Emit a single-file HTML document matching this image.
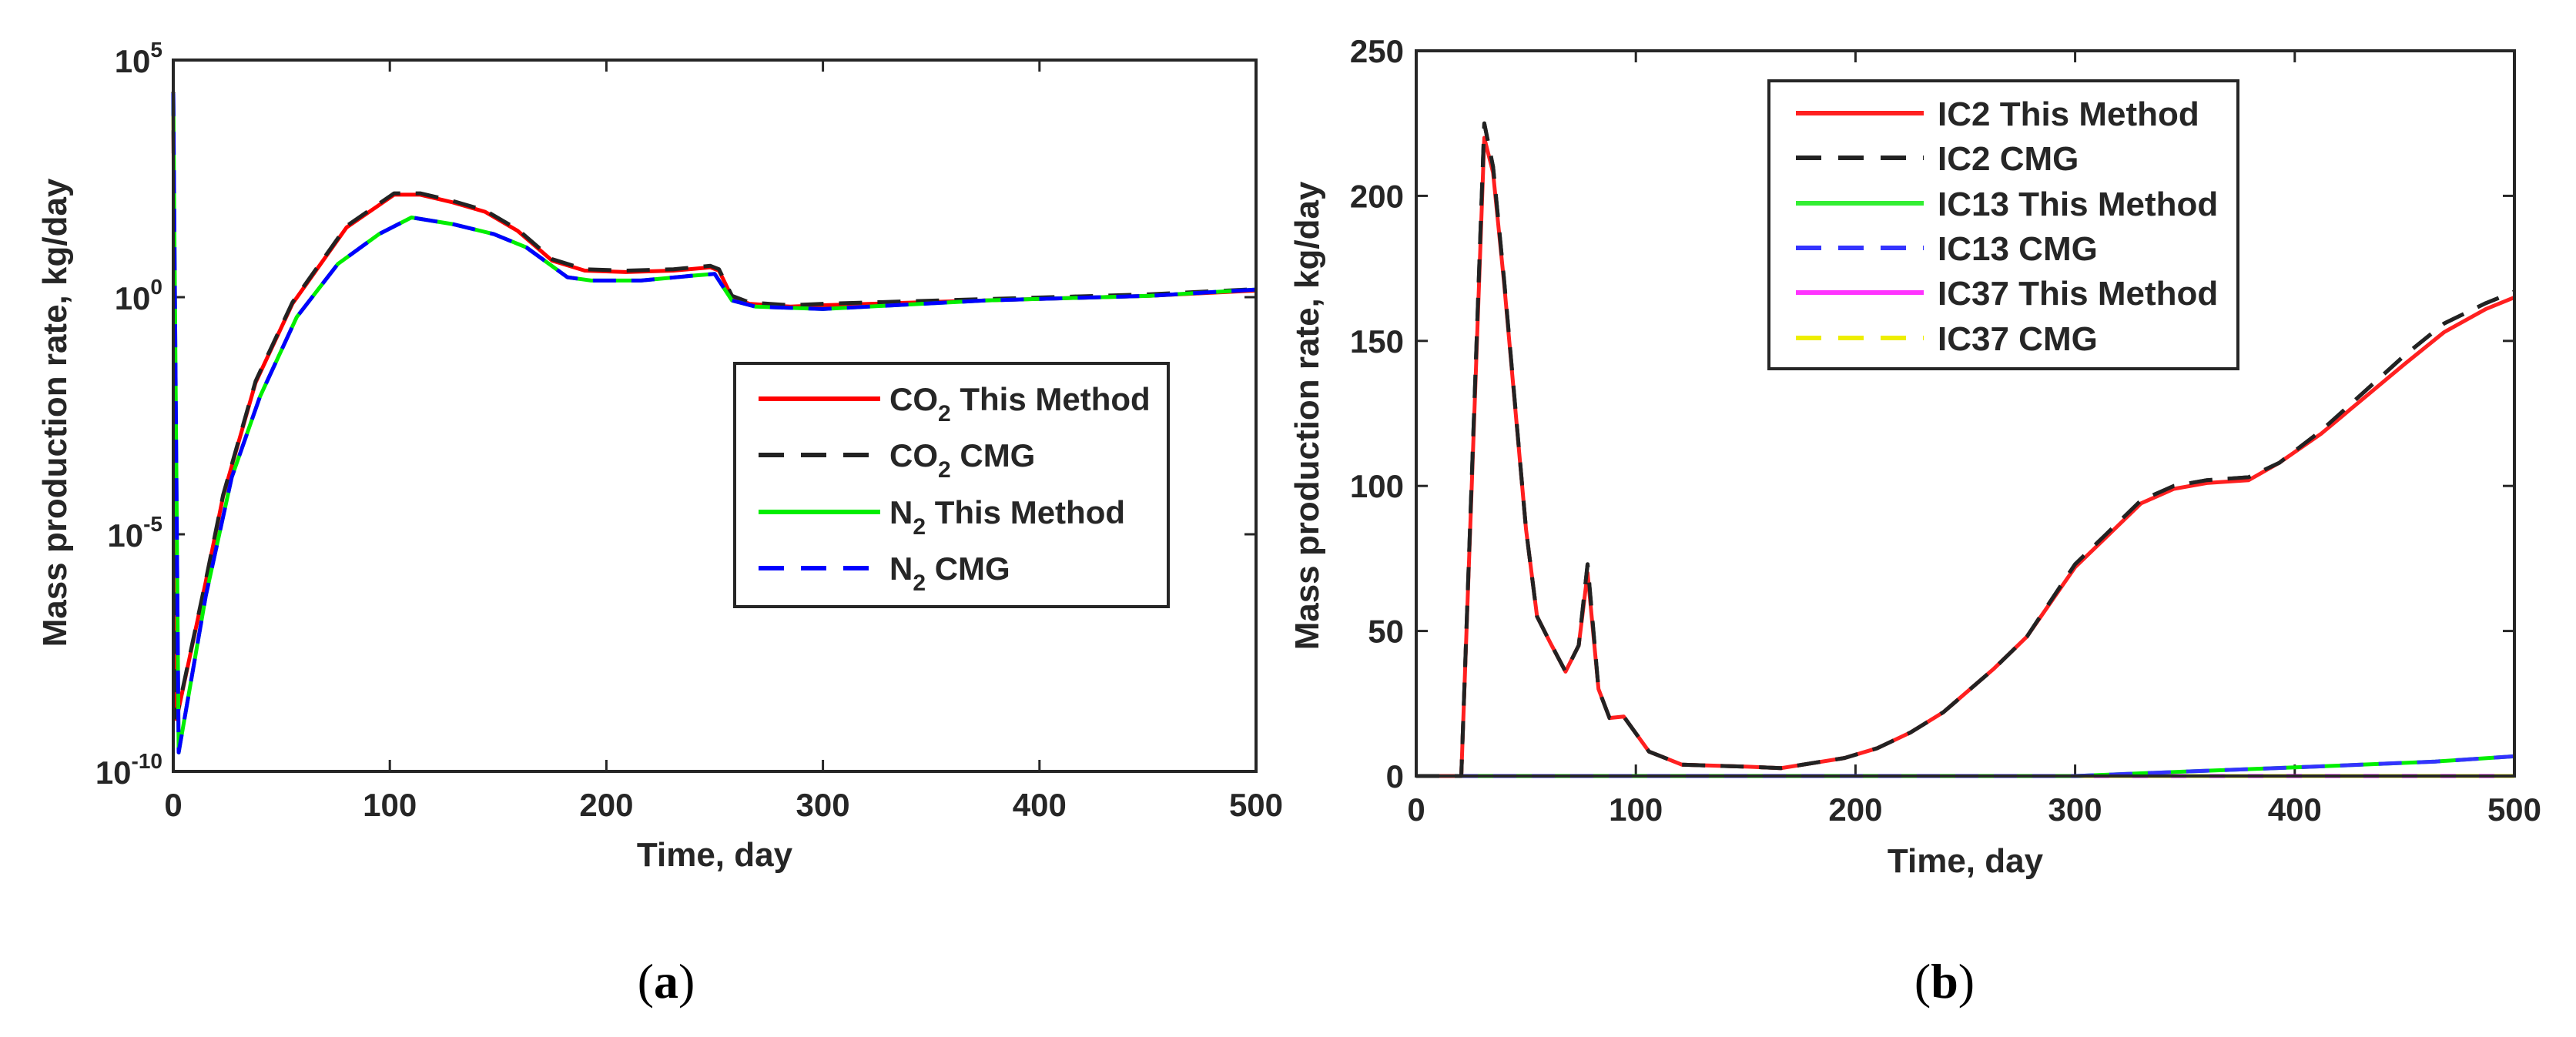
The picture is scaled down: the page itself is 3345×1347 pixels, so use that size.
<!DOCTYPE html>
<html><head><meta charset="utf-8"><style>
html,body{margin:0;padding:0;background:#fff;}
svg{display:block;}
text{font-family:"Liberation Sans",Arial,sans-serif;font-weight:bold;fill:#262626;}
.cap{font-family:"Liberation Serif","DejaVu Serif",serif;font-weight:normal;fill:#000;}
</style></head><body>
<svg id="fig" width="3345" height="1347" viewBox="0 0 3345 1347" xmlns="http://www.w3.org/2000/svg">
<g id="pa"></g>
<g id="pb"></g>
<text class="cap" x="865" y="1296" font-size="64" text-anchor="middle">(<tspan font-weight="bold">a</tspan>)</text>
<text class="cap" x="2525" y="1296" font-size="64" text-anchor="middle">(<tspan font-weight="bold">b</tspan>)</text>
</svg>
<script>
// ---- Panel (a) data: log10 of rate ----
const aXTicks = [0,100,200,300,400,500];
const aYTickExp = [5,0,-5,-10];
const aCO2x = [0,1.5,15,23,38,55,80,102,114,129,144,159,175,190,209,231,248,252,258,266,285,300,375,451,500];
const aCO2y = [4.3,-8.9,-6.0,-4.2,-1.8,-0.14,1.47,2.16,2.16,2.0,1.8,1.4,0.77,0.56,0.53,0.56,0.63,0.56,0.0,-0.14,-0.2,-0.17,-0.07,0.03,0.14];
const aN2x = [0,2.5,15,27,40,57,76,95,110,129,148,163,182,193,216,239,250,258,269,300,375,451,500];
const aN2y = [4.3,-9.6,-6.3,-3.8,-2.1,-0.42,0.7,1.33,1.68,1.54,1.33,1.05,0.42,0.35,0.35,0.45,0.49,-0.07,-0.2,-0.25,-0.07,0.03,0.16];
// ---- Panel (b) data ----
const bXTicks = [0,100,200,300,400,500];
const bYTicks = [0,50,100,150,200,250];
const bIC2x = [0,20.5,31,35,40,50,55,61,68,74,78,83,88,94.5,106,121,151,166,195,210,225,240,263,278,300,315,330,345,360,379,393,412,431,450,468,487,500];
const bIC2y = [0,0,220,208,170,85,55,46,36,45,70,30,20,20.5,8.4,3.9,3.2,2.7,6.2,9.6,15,22,37,48,72,83,94,99,101,102,108,118,130,142,153,161,165];
const bIC2cy = [0,0,225,210,171,85,55,46,36,45,73,30,20,20.5,8.4,3.9,3.2,2.7,6.2,9.6,15,22,37,48,73,84,95,100,102,103,108,119,132,145,156,163,167];
const bIC13x = [0,300,352,408,464,500];
const bIC13y = [0,0,1.6,3.2,5,6.8];
const bIC37x = [0,500];
const bIC37y = [0,0];

const NS='http://www.w3.org/2000/svg';
function mk(parent,tag,attrs){const e=document.createElementNS(NS,tag);for(const k in attrs)e.setAttribute(k,attrs[k]);parent.appendChild(e);return e;}
const AX='#262626';
function poly(g,xs,ys,fx,fy,color,dash,name){
  const pts=xs.map((x,i)=>fx(x).toFixed(1)+','+fy(ys[i]).toFixed(1)).join(' ');
  const p=mk(g,'polyline',{points:pts,fill:'none',stroke:color,'stroke-width':5,'stroke-linejoin':'round'});
  if(dash)p.setAttribute('stroke-dasharray','30 20');
  
  
}
function legend(g,x0,y0,x1,y1,items,lx0,lx1,tx,fs){
  const r=mk(g,'rect',{x:x0,y:y0,width:x1-x0,height:y1-y0,fill:'#fff',stroke:AX,'stroke-width':4});
  
  
  items.forEach(it=>{
    const l=mk(g,'line',{x1:lx0,x2:lx1,y1:it.y,y2:it.y,stroke:it.c,'stroke-width':6});
    if(it.d)l.setAttribute('stroke-dasharray','33 22');
    
    
    const t=mk(g,'text',{x:tx,y:it.y+fs*0.36,'font-size':fs,fill:'#000'});
    t.innerHTML=it.t;
    
    
  });
}
function frame(g,L,R,T,B){
  const r=mk(g,'rect',{x:L,y:T,width:R-L,height:B-T,fill:'none',stroke:AX,'stroke-width':4});
  
  
}
// ---- Panel A ----
(function(){
  const g=document.getElementById('pa');
  const L=225,R=1631,T=78,B=1002;
  const fx=v=>L+(v-0)/500*(R-L);
  const fy=v=>B-(v-(-10))/15*(B-T);
  aXTicks.forEach(v=>{
    const x=fx(v);
    const t1=mk(g,'line',{x1:x,x2:x,y1:B,y2:B-15,stroke:AX,'stroke-width':3});
    
    
    const t2=mk(g,'line',{x1:x,x2:x,y1:T,y2:T+15,stroke:AX,'stroke-width':3});
    
    
    const t=mk(g,'text',{x:x,y:B+58,'font-size':42,'text-anchor':'middle'});
    t.textContent=v;
    
    
  });
  aYTickExp.forEach(v=>{
    const y=fy(v);
    const t1=mk(g,'line',{x1:L,x2:L+15,y1:y,y2:y,stroke:AX,'stroke-width':3});
    
    
    const t2=mk(g,'line',{x1:R,x2:R-15,y1:y,y2:y,stroke:AX,'stroke-width':3});
    
    
    const t=mk(g,'text',{x:L-14,y:y+16,'font-size':42,'text-anchor':'end'});
    t.innerHTML='10<tspan font-size="28" dy="-20">'+v+'</tspan>';
    
    
  });
  poly(g,aCO2x,aCO2y,fx,fy,'#ff0000',false,'co2-this-method-line');
  poly(g,aCO2x,aCO2y.map(v=>v+0.03),fx,fy,'#222',true,'co2-cmg-line');
  poly(g,aN2x,aN2y,fx,fy,'#00ee00',false,'n2-this-method-line');
  poly(g,aN2x,aN2y,fx,fy,'#0000ff',true,'n2-cmg-line');
  frame(g,L,R,T,B);
  const xl=mk(g,'text',{x:(L+R)/2,y:1125,'font-size':44,'text-anchor':'middle'});
  xl.textContent='Time, day';
  
  
  const yl=mk(g,'text',{x:0,y:0,'font-size':44,'text-anchor':'middle',transform:'translate(86,536) rotate(-90)'});
  yl.textContent='Mass production rate, kg/day';
  
  
  const sub='<tspan font-size="30" dy="14">2</tspan><tspan dy="-14"> </tspan>';
  legend(g,954,472,1517,788,[
    {y:518,c:'#ff0000',d:false,t:'CO'+sub+'This Method'},
    {y:591,c:'#222',d:true,t:'CO'+sub+'CMG'},
    {y:665,c:'#00ee00',d:false,t:'N'+sub+'This Method'},
    {y:738,c:'#0000ff',d:true,t:'N'+sub+'CMG'}],985,1143,1155,42);
})();
// ---- Panel B ----
(function(){
  const g=document.getElementById('pb');
  const L=1839,R=3265,T=66,B=1008;
  const fx=v=>L+v/500*(R-L);
  const fy=v=>B-v/250*(B-T);
  bXTicks.forEach(v=>{
    const x=fx(v);
    const t1=mk(g,'line',{x1:x,x2:x,y1:B,y2:B-15,stroke:AX,'stroke-width':3});
    
    
    const t2=mk(g,'line',{x1:x,x2:x,y1:T,y2:T+15,stroke:AX,'stroke-width':3});
    
    
    const t=mk(g,'text',{x:x,y:B+58,'font-size':42,'text-anchor':'middle'});
    t.textContent=v;
    
    
  });
  bYTicks.forEach(v=>{
    const y=fy(v);
    const t1=mk(g,'line',{x1:L,x2:L+15,y1:y,y2:y,stroke:AX,'stroke-width':3});
    
    
    const t2=mk(g,'line',{x1:R,x2:R-15,y1:y,y2:y,stroke:AX,'stroke-width':3});
    
    
    const t=mk(g,'text',{x:L-16,y:y+15,'font-size':42,'text-anchor':'end'});
    t.textContent=v;
    
    
  });
  poly(g,bIC37x,bIC37y,fx,fy,'#ff00ff',false,'ic37-this-method-line');
  poly(g,bIC37x,bIC37y,fx,fy,'#e6e600',true,'ic37-cmg-line');
  poly(g,bIC13x,bIC13y,fx,fy,'#00ee00',false,'ic13-this-method-line');
  poly(g,bIC13x,bIC13y,fx,fy,'#3333ff',true,'ic13-cmg-line');
  poly(g,bIC2x,bIC2cy,fx,fy,'#222',true,'ic2-cmg-line');
  poly(g,bIC2x,bIC2y,fx,fy,'#ff2020',false,'ic2-this-method-line');
  poly(g,bIC2x,bIC2cy,fx,fy,'#222',true,'ic2-cmg-line-overlay');
  frame(g,L,R,T,B);
  const xl=mk(g,'text',{x:(L+R)/2,y:1133,'font-size':44,'text-anchor':'middle'});
  xl.textContent='Time, day';
  
  
  const yl=mk(g,'text',{x:0,y:0,'font-size':44,'text-anchor':'middle',transform:'translate(1712,540) rotate(-90)'});
  yl.textContent='Mass production rate, kg/day';
  
  
  legend(g,2297,105,2906,479,[
    {y:147,c:'#ff2020',d:false,t:'IC2 This Method'},
    {y:205,c:'#222',d:true,t:'IC2 CMG'},
    {y:264,c:'#33ee33',d:false,t:'IC13 This Method'},
    {y:322,c:'#3333ff',d:true,t:'IC13 CMG'},
    {y:380,c:'#ff33ff',d:false,t:'IC37 This Method'},
    {y:439,c:'#eeee00',d:true,t:'IC37 CMG'}],2332,2498,2516,44);
})();
</script>
</body></html>
